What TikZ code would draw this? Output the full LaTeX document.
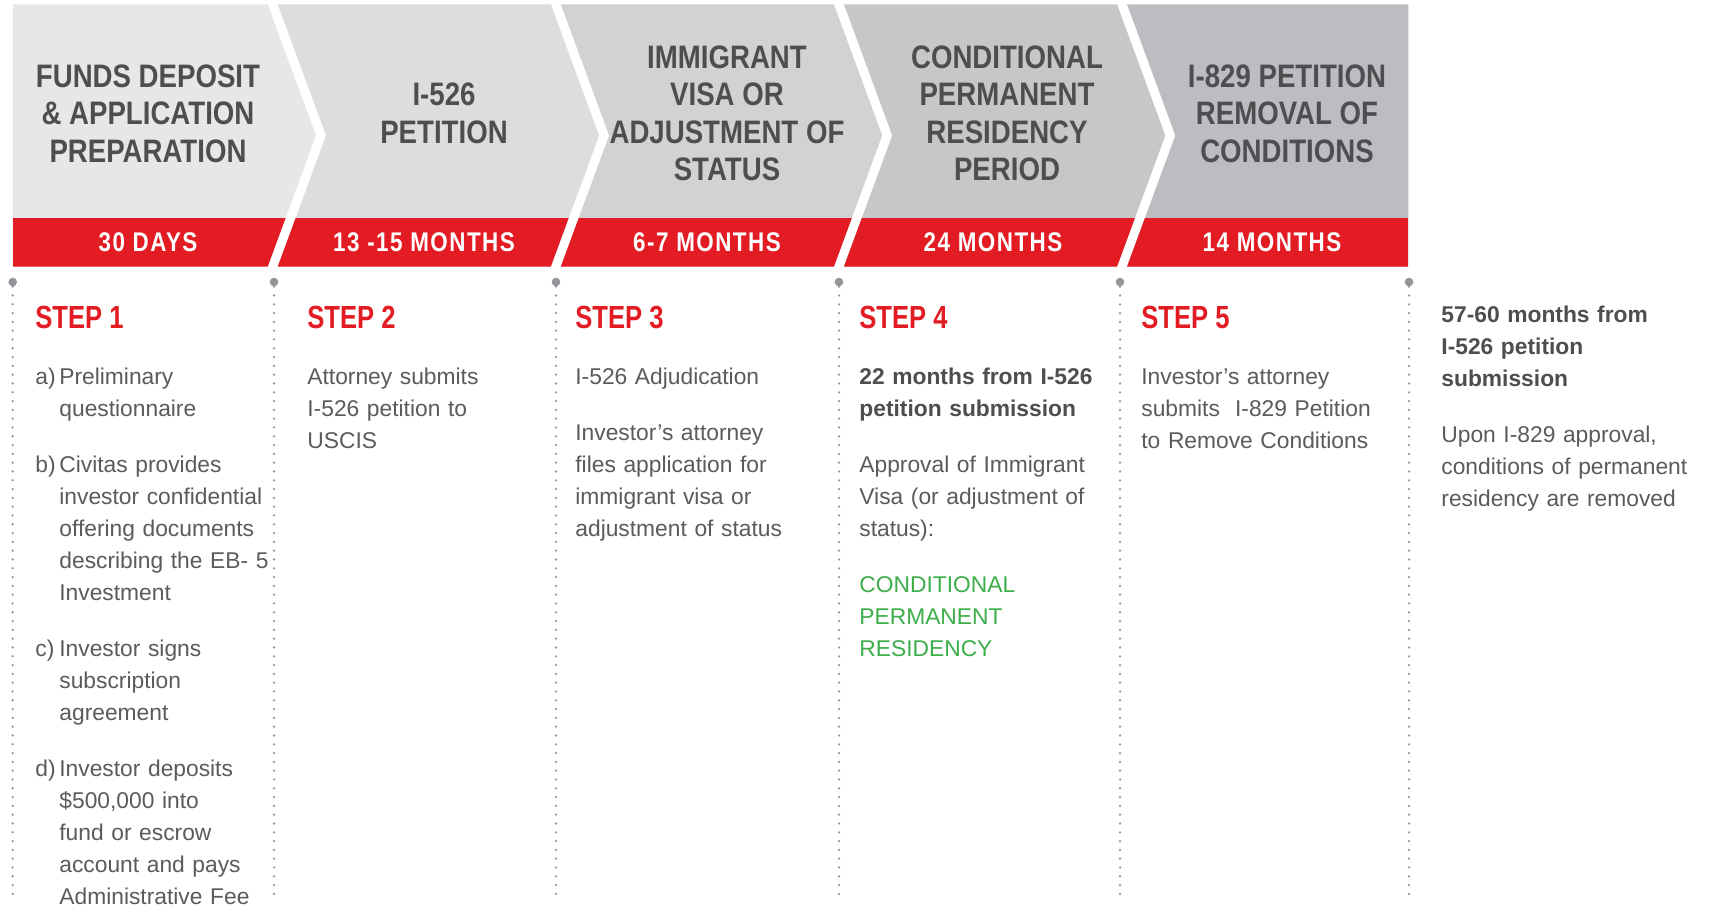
\documentclass[tikz,border=0pt]{standalone}
\usepackage{fontspec}
\usepackage{xcolor}
\setmainfont{Liberation Sans}
\newfontfamily\headfont[FakeStretch=0.85]{Liberation Sans Bold}
\newfontfamily\stepfont[FakeStretch=0.8]{Liberation Sans Bold}
\newfontfamily\bandfont[FakeStretch=0.83,LetterSpace=5.5]{Liberation Sans Bold}
\definecolor{bandred}{HTML}{E31B23}
\definecolor{headgray}{HTML}{4D4E50}
\definecolor{bodygray}{HTML}{5A5B5D}
\definecolor{dotgray}{HTML}{939598}
\definecolor{cprgreen}{HTML}{3DAE4A}
\definecolor{chevA}{HTML}{E6E7E8}
\definecolor{chevB}{HTML}{DCDDDF}
\definecolor{chevC}{HTML}{D1D2D4}
\definecolor{chevD}{HTML}{C6C7C9}
\definecolor{chevE}{HTML}{BCBDC0}
\newcommand{\itemlbl}[1]{\makebox[12pt][l]{#1}}
\newcommand{\subind}{\hspace*{12pt}}

\begin{document}
\begin{tikzpicture}[x=0.5pt,y=-0.5pt,
	headtext/.style={align=center,text=headgray,font=\headfont\fontsize{16.25}{18.75}\selectfont},
	bandtext/.style={text=white,font=\bandfont\fontsize{13.5}{16}\selectfont},
	steptext/.style={anchor=base west,inner sep=0pt,text=bandred,font=\stepfont\fontsize{16}{19}\selectfont},
	bodytext/.style={anchor=base west,inner sep=0pt,align=left,text width=135pt,text=bodygray,font=\fontsize{11.4}{16}\selectfont},
	topdot/.style={circle,fill=dotgray,inner sep=0pt,minimum size=4.3pt},
	sepline/.style={dotgray,line width=1.25pt,line cap=round,dash pattern=on 0pt off 4.4pt}]
	\fill[white] (0,0) rectangle (1709,908);
	\useasboundingbox (0,0) rectangle (1709,908);
	\foreach \lx/\rx/\nx/\tx/\fc in {12.5/267.7/0/48.3/chevA,277.7/550.8/48.3/48.3/chevB,560.8/833.9/48.3/48.3/chevC,843.9/1117/48.3/48.3/chevD,1127/1408.3/48.3/0/chevE}{
		\fill[\fc] (\lx,4.3) -- (\rx,4.3) -- (\rx+\tx,135.5) -- (\rx,266.7) -- (\lx,266.7) -- (\lx+\nx,135.5) -- cycle;
		\begin{scope}
			\clip (\lx,4.3) -- (\rx,4.3) -- (\rx+\tx,135.5) -- (\rx,266.7) -- (\lx,266.7) -- (\lx+\nx,135.5) -- cycle;
			\fill[bandred] (\lx,218.3) rectangle (\rx+\tx,266.7);
		\end{scope}
	}
	\node[headtext] (head1) at (148,113.5) {FUNDS DEPOSIT\\\& APPLICATION\\PREPARATION};
	\node[headtext] (head2) at (444,113.5) {I-526\\PETITION};
	\node[headtext] (head3) at (727,113.5) {IMMIGRANT\\VISA OR\\ADJUSTMENT OF\\STATUS};
	\node[headtext] (head4) at (1007,113.5) {CONDITIONAL\\PERMANENT\\RESIDENCY\\PERIOD};
	\node[headtext] (head5) at (1287,113.5) {I-829 PETITION\\REMOVAL OF\\CONDITIONS};
	\node[bandtext] (band1) at (148,242.5) {30 DAYS};
	\node[bandtext] (band2) at (424,242.5) {13 -15 MONTHS};
	\node[bandtext] (band3) at (707,242.5) {6-7 MONTHS};
	\node[bandtext] (band4) at (993,242.5) {24 MONTHS};
	\node[bandtext] (band5) at (1272,242.5) {14 MONTHS};
	\foreach \sx [count=\k] in {12.7,274,556,839,1120,1409}{
		\node[topdot] (dot\k) at (\sx,282) {};
		\coordinate (end\k) at (\sx,895);
		\draw[sepline] (dot\k) -- (end\k);
	}
	\node[steptext] (step1) at (35,329) {STEP 1};
	\node[steptext] (step2) at (307,329) {STEP 2};
	\node[steptext] (step3) at (575,329) {STEP 3};
	\node[steptext] (step4) at (859,329) {STEP 4};
	\node[steptext] (step5) at (1141,329) {STEP 5};
	\node[bodytext] (body1) at (35,385) {\itemlbl{a)}Preliminary\\\subind questionnaire\\[12pt]\itemlbl{b)}Civitas provides\\\subind investor confidential\\\subind offering documents\\\subind describing the EB- 5\\\subind Investment\\[12pt]\itemlbl{c)}Investor signs\\\subind subscription\\\subind agreement\\[12pt]\itemlbl{d)}Investor deposits\\\subind \$500,000 into\\\subind fund or escrow\\\subind account and pays\\\subind Administrative Fee};
	\node[bodytext] (body2) at (307,385) {Attorney submits\\I-526 petition to\\USCIS};
	\node[bodytext] (body3) at (575,385) {I-526 Adjudication\\[12pt]Investor’s attorney\\files application for\\immigrant visa or\\adjustment of status};
	\node[bodytext] (body4) at (859,385) {\leavevmode{\color{headgray}\bfseries 22 months from I-526\\petition submission}\\[12pt]Approval of Immigrant\\Visa (or adjustment of\\status):\\[12pt]\leavevmode{\color{cprgreen}CONDITIONAL\\PERMANENT\\RESIDENCY}};
	\node[bodytext] (body5) at (1141,385) {Investor’s attorney\\submits\ \ I-829 Petition\\to Remove Conditions};
	\node[bodytext] (body6) at (1441,323) {\leavevmode{\color{headgray}\bfseries 57-60 months from\\I-526 petition\\submission}\\[12pt]Upon I-829 approval,\\conditions of permanent\\residency are removed};
\end{tikzpicture}
\end{document}
